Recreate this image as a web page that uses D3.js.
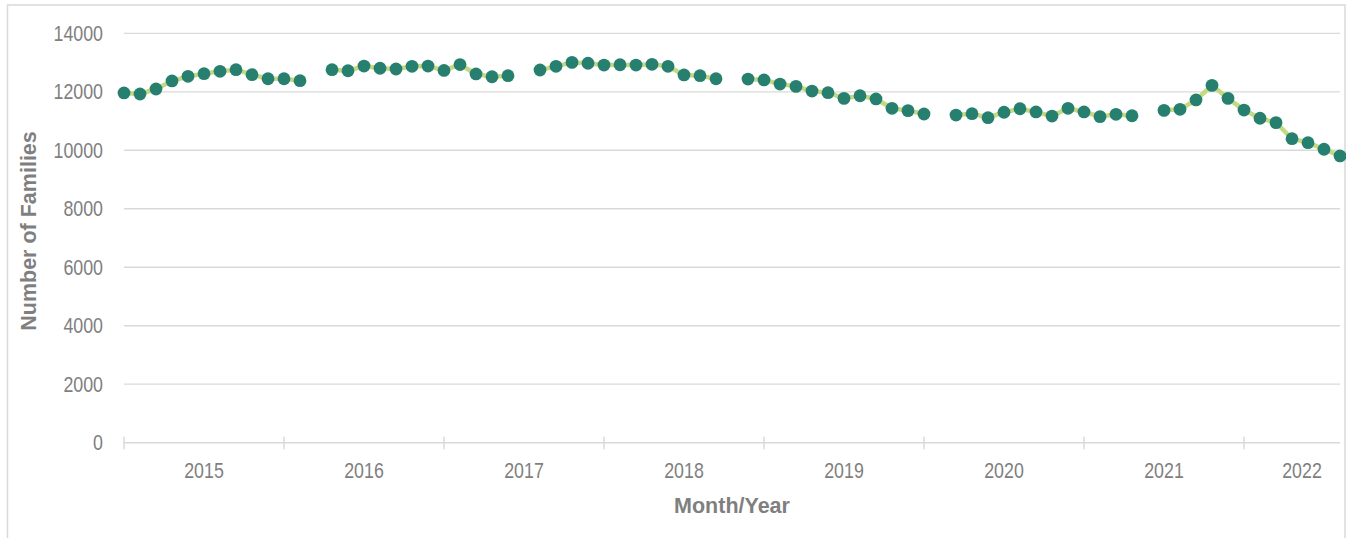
<!DOCTYPE html>
<html>
<head>
<meta charset="utf-8">
<script src="https://cdn.jsdelivr.net/npm/d3@7"></script>
<style>
  html, body { margin: 0; padding: 0; background: #fff; }
  svg { display: block; }
</style>
</head>
<body>
<svg id="chart" width="1346" height="538"></svg>
<script>
// ---- data ----
const group1 = [11960, 11925, 12095, 12370, 12530, 12620, 12700, 12755, 12585, 12445, 12445, 12380];
const group2 = [12755, 12720, 12880, 12805, 12780, 12870, 12880, 12730, 12930, 12610, 12515, 12550];
const group3 = [12745, 12870, 13005, 12975, 12915, 12925, 12915, 12940, 12870, 12575, 12550, 12445];
const group4 = [12435, 12405, 12265, 12185, 12025, 11970, 11775, 11865, 11755, 11435, 11355, 11240];
const group5 = [11205, 11250, 11115, 11300, 11420, 11310, 11170, 11435, 11310, 11150, 11230, 11180];
const group6 = [11365, 11400, 11720, 12220, 11775, 11375, 11095, 10945, 10395, 10260, 10035, 9805];
const yearLabels = ["2015", "2016", "2017", "2018", "2019", "2020", "2021", "2022"];
const yTicks = [0, 2000, 4000, 6000, 8000, 10000, 12000, 14000];
const yTitle = "Number of Families";
const xTitle = "Month/Year";

(function () {
// build series with one empty slot between groups
const groups = [group1, group2, group3, group4, group5, group6];
const series = [];
groups.forEach((g, i) => {
  if (i > 0) series.push(null);
  g.forEach(v => series.push(v));
});
const pts = series.map((v, i) => ({ i, v }));
const n = series.length;
const slotsPerLabel = 10;

// ---- layout ----
const svg = d3.select("#chart");
const pLeft = 124, pRight = 1340, pTop = 33.3, pBottom = 442.7;
const grey = "#7f7f7f";
const gridCol = "#d9d9d9";
const sansFont = "'Liberation Sans', Arial, sans-serif";
const sx = 0.81; // condensed look of the tick labels

const x = d3.scaleLinear().domain([0, n - 1]).range([pLeft, pRight]);
const y = d3.scaleLinear().domain([0, 14000]).range([pBottom, pTop]);

// outer border
svg.append("rect")
  .attr("x", 7.5).attr("y", 5).attr("width", 1337.5).attr("height", 560)
  .attr("fill", "none").attr("stroke", gridCol).attr("stroke-width", 1.5);

// gridlines
svg.append("g").selectAll("line")
  .data(yTicks.filter(t => t > 0))
  .join("line")
  .attr("x1", pLeft).attr("x2", pRight)
  .attr("y1", d => y(d)).attr("y2", d => y(d))
  .attr("stroke", gridCol).attr("stroke-width", 1.3);

// y axis labels
const yAxis = d3.axisLeft(y).tickValues(yTicks).tickSize(0).tickPadding(21).tickFormat(d3.format("d"));
const gy = svg.append("g").attr("transform", `translate(${pLeft},0)`).call(yAxis);
gy.select(".domain").remove();
gy.selectAll("text")
  .attr("fill", grey)
  .attr("x", -21 / sx)
  .attr("transform", `scale(${sx},1)`)
  .style("font-family", sansFont)
  .style("font-size", "22px");

// x axis line + ticks
const tickSlots = d3.range(0, n, slotsPerLabel);
const gx = svg.append("g");
gx.append("line")
  .attr("x1", pLeft).attr("x2", pRight)
  .attr("y1", pBottom).attr("y2", pBottom)
  .attr("stroke", gridCol).attr("stroke-width", 1.5);
gx.selectAll("line.tk")
  .data(tickSlots)
  .join("line").attr("class", "tk")
  .attr("x1", d => x(d)).attr("x2", d => x(d))
  .attr("y1", pBottom - 6).attr("y2", pBottom + 6.5)
  .attr("stroke", gridCol).attr("stroke-width", 1.5);

// year labels centred between ticks (last one in remaining space)
gx.selectAll("text.yr")
  .data(yearLabels)
  .join("text").attr("class", "yr")
  .attr("transform", (d, i) => {
    const a = x(i * slotsPerLabel);
    const b = (i + 1) * slotsPerLabel <= n - 1 ? x((i + 1) * slotsPerLabel) : x(n - 1) + 20;
    return `translate(${(a + b) / 2},478) scale(${sx},1)`;
  })
  .attr("text-anchor", "middle")
  .attr("fill", grey)
  .style("font-family", sansFont)
  .style("font-size", "22px")
  .text(d => d);

// axis titles
svg.append("text")
  .attr("x", 732).attr("y", 513)
  .attr("text-anchor", "middle")
  .attr("fill", grey)
  .style("font-family", sansFont)
  .style("font-weight", "bold")
  .style("font-size", "21.5px")
  .text(xTitle);

svg.append("text")
  .attr("transform", `translate(36,231) rotate(-90)`)
  .attr("text-anchor", "middle")
  .attr("fill", grey)
  .style("font-family", sansFont)
  .style("font-weight", "bold")
  .style("font-size", "21.5px")
  .text(yTitle);

// line
const line = d3.line()
  .defined(d => d.v != null)
  .x(d => x(d.i))
  .y(d => y(d.v));
svg.append("path")
  .datum(pts)
  .attr("d", line)
  .attr("fill", "none")
  .attr("stroke", "#c3da83")
  .attr("stroke-width", 4.5)
  .attr("stroke-linejoin", "round");

// markers
svg.append("g").selectAll("circle")
  .data(pts.filter(d => d.v != null))
  .join("circle")
  .attr("cx", d => x(d.i))
  .attr("cy", d => y(d.v))
  .attr("r", 6.4)
  .attr("fill", "#27806f");
})();
</script>
</body>
</html>
